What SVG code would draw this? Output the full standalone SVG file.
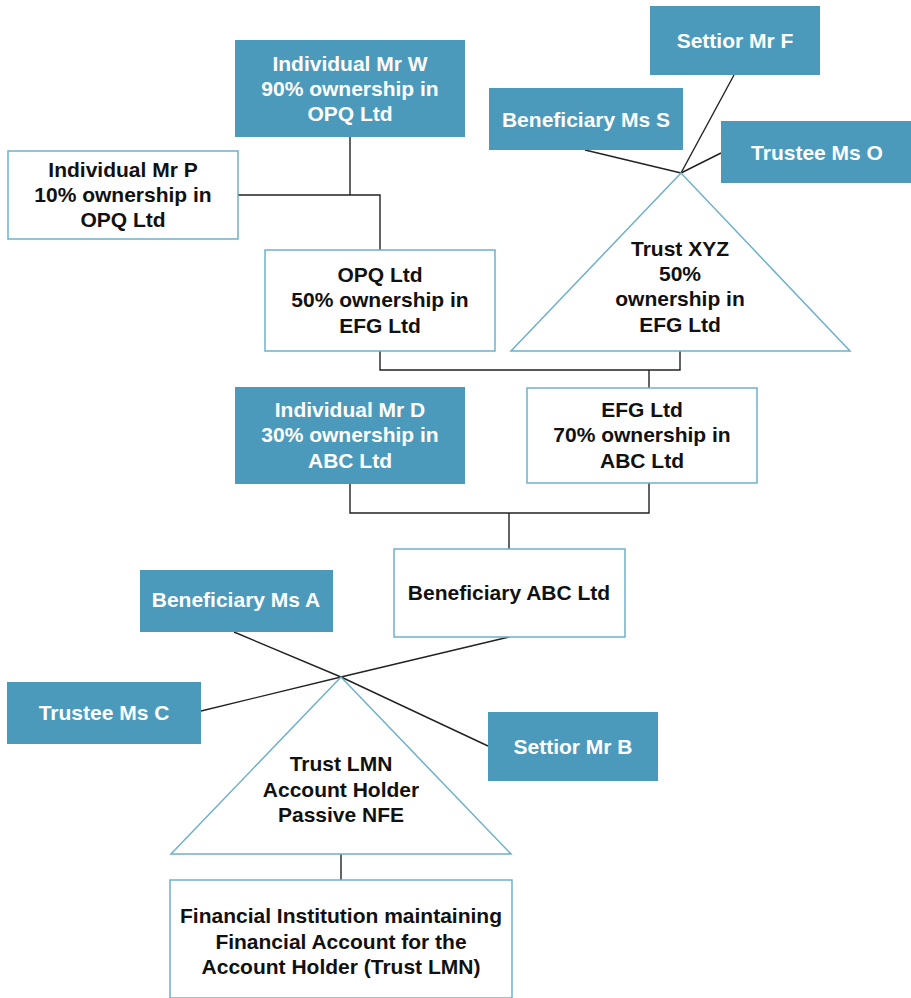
<svg xmlns="http://www.w3.org/2000/svg" width="911" height="998" viewBox="0 0 911 998">
<style>
.f{fill:#4B9ABC}
.o{fill:#fff;stroke:#6DB0CD;stroke-width:1.5}
.c{fill:none;stroke:#222;stroke-width:1.4}
text{font-family:"Liberation Sans",Arial,sans-serif;font-weight:bold;font-size:21px;text-anchor:middle}
.w{fill:#fff}
.k{fill:#111}
</style>
<rect width="911" height="998" fill="#fff"/>
<g id="connectors">
<polyline class="c" points="350,137 350,195"/>
<polyline class="c" points="238,195 380,195 380,250"/>
<polyline class="c" points="734,75 681,173"/>
<polyline class="c" points="585,150 681,173"/>
<polyline class="c" points="721,153 681,173"/>
<polyline class="c" points="380,351 380,370 680,370 680,351"/>
<polyline class="c" points="649,370 649,388"/>
<polyline class="c" points="350,484 350,513 649,513 649,483"/>
<polyline class="c" points="509,513 509,549"/>
<polyline class="c" points="234,632 341,677 488,746"/>
<polyline class="c" points="201,711 341,677 509,637"/>
<polyline class="c" points="341,854 341,880"/>
</g>
<g id="mrW"><rect class="f" x="235" y="40" width="230" height="97"/>
<text class="w" x="350" y="71">Individual Mr W</text><text class="w" x="350" y="96">90% ownership in</text><text class="w" x="350" y="121">OPQ Ltd</text></g>
<g id="mrP"><rect class="o" x="8" y="151" width="230" height="88"/>
<text class="k" x="123" y="177">Individual Mr P</text><text class="k" x="123" y="202">10% ownership in</text><text class="k" x="123" y="227">OPQ Ltd</text></g>
<g id="opq"><rect class="o" x="265" y="250" width="230" height="101"/>
<text class="k" x="380" y="282">OPQ Ltd</text><text class="k" x="380" y="307">50% ownership in</text><text class="k" x="380" y="333">EFG Ltd</text></g>
<g id="mrF"><rect class="f" x="650" y="6" width="170" height="69"/>
<text class="w" x="735" y="48">Settior Mr F</text></g>
<g id="msS"><rect class="f" x="489" y="88" width="194" height="62"/>
<text class="w" x="586" y="127">Beneficiary Ms S</text></g>
<g id="msO"><rect class="f" x="721" y="121" width="190" height="62"/>
<text class="w" x="817" y="160">Trustee Ms O</text></g>
<g id="trustXYZ"><polygon class="o" points="681,173 511,351 850,351"/>
<text class="k" x="680" y="256">Trust XYZ</text><text class="k" x="680" y="281">50%</text><text class="k" x="680" y="306">ownership in</text><text class="k" x="680" y="332">EFG Ltd</text></g>
<g id="mrD"><rect class="f" x="235" y="387" width="230" height="97"/>
<text class="w" x="350" y="417">Individual Mr D</text><text class="w" x="350" y="442">30% ownership in</text><text class="w" x="350" y="468">ABC Ltd</text></g>
<g id="efg"><rect class="o" x="527" y="388" width="230" height="95"/>
<text class="k" x="642" y="417">EFG Ltd</text><text class="k" x="642" y="442">70% ownership in</text><text class="k" x="642" y="468">ABC Ltd</text></g>
<g id="abc"><rect class="o" x="394" y="549" width="231" height="88"/>
<text class="k" x="509" y="600">Beneficiary ABC Ltd</text></g>
<g id="msA"><rect class="f" x="140" y="570" width="193" height="62"/>
<text class="w" x="236" y="607">Beneficiary Ms A</text></g>
<g id="msC"><rect class="f" x="7" y="682" width="194" height="62"/>
<text class="w" x="104" y="720">Trustee Ms C</text></g>
<g id="mrB"><rect class="f" x="488" y="712" width="170" height="69"/>
<text class="w" x="573" y="754">Settior Mr B</text></g>
<g id="trustLMN"><polygon class="o" points="341,677 171,854 511,854"/>
<text class="k" x="341" y="771">Trust LMN</text><text class="k" x="341" y="797">Account Holder</text><text class="k" x="341" y="822">Passive NFE</text></g>
<g id="fi"><rect class="o" x="170" y="880" width="342" height="118"/>
<text class="k" x="341" y="923">Financial Institution maintaining</text><text class="k" x="341" y="949">Financial Account for the</text><text class="k" x="341" y="974">Account Holder (Trust LMN)</text></g>
</svg>
